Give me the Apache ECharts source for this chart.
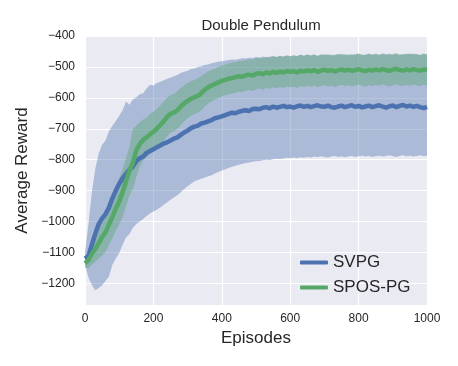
<!DOCTYPE html>
<html>
<head>
<meta charset="utf-8">
<script src="https://cdn.jsdelivr.net/npm/echarts@6/dist/echarts.min.js"></script>
<style>html,body{margin:0;padding:0;background:#fff;}#c{width:458px;height:366px;}</style>
</head>
<body>
<div id="c"></div>
<script>
const episodes = [];
for (let e = 0; e <= 1000; e += 10) episodes.push(e);

const yTicks = [-1200, -1100, -1000, -900, -800, -700, -600, -500, -400];
const xTicks = [0, 200, 400, 600, 800, 1000];

const svpgMean = [-1120,-1112,-1075,-1040,-1008,-990,-976,-955,-925,-900,-878,-860,-846,-832,-822,-805,-795,-790,-778,-772,-766,-760,-754,-748,-744,-738,-732,-728,-720,-712,-706,-698,-693,-690,-683,-680,-676,-672,-666,-663,-660,-656,-652,-648,-650,-645,-642,-640,-643,-636,-635,-637,-632,-630,-634,-628,-632,-629,-626,-630,-628,-632,-627,-625,-629,-626,-630,-627,-624,-628,-629,-625,-630,-632,-628,-625,-630,-627,-624,-629,-626,-631,-628,-625,-630,-627,-624,-628,-632,-627,-625,-630,-626,-623,-628,-625,-629,-626,-630,-633,-629];
const svpgUpper = [-1100,-1010,-905,-830,-780,-752,-738,-708,-690,-675,-658,-640,-612,-622,-605,-598,-588,-585,-570,-558,-560,-552,-548,-544,-538,-535,-530,-526,-520,-516,-512,-507,-505,-500,-498,-494,-492,-488,-486,-483,-482,-480,-478,-476,-477,-474,-472,-473,-470,-471,-468,-470,-466,-469,-467,-464,-468,-465,-466,-463,-466,-462,-465,-461,-464,-460,-463,-461,-465,-460,-462,-459,-464,-461,-458,-462,-460,-463,-459,-461,-458,-462,-460,-457,-461,-459,-462,-458,-460,-457,-461,-459,-462,-458,-460,-457,-461,-459,-462,-458,-460];
const svpgLower = [-1140,-1180,-1205,-1222,-1215,-1206,-1192,-1178,-1140,-1120,-1102,-1075,-1052,-1040,-1020,-1008,-1000,-992,-982,-974,-968,-962,-955,-946,-938,-930,-922,-915,-905,-895,-886,-878,-870,-866,-862,-858,-854,-850,-845,-840,-835,-831,-827,-823,-820,-816,-813,-811,-809,-807,-805,-804,-802,-800,-801,-799,-797,-798,-796,-794,-795,-793,-795,-792,-794,-791,-793,-790,-792,-789,-791,-793,-790,-788,-791,-789,-792,-790,-788,-791,-789,-787,-790,-788,-791,-789,-787,-790,-788,-786,-789,-791,-788,-786,-789,-787,-790,-788,-786,-789,-787];

const sposMean = [-1135,-1125,-1105,-1088,-1070,-1050,-1035,-1010,-985,-958,-935,-905,-870,-835,-810,-770,-750,-736,-728,-718,-710,-700,-688,-676,-662,-652,-648,-640,-628,-618,-610,-603,-598,-594,-585,-574,-566,-560,-555,-550,-545,-542,-538,-536,-533,-530,-532,-527,-525,-528,-522,-520,-524,-518,-521,-516,-519,-515,-518,-513,-516,-514,-518,-512,-515,-511,-514,-510,-516,-512,-509,-513,-510,-515,-511,-508,-512,-509,-513,-510,-507,-511,-514,-509,-512,-508,-511,-507,-510,-513,-509,-506,-510,-512,-508,-511,-507,-510,-512,-508,-510];
const sposUpper = [-1115,-1095,-1070,-1045,-1020,-992,-975,-950,-920,-890,-860,-830,-795,-760,-700,-690,-680,-670,-665,-652,-645,-636,-625,-612,-600,-592,-588,-578,-568,-560,-552,-546,-542,-537,-530,-522,-515,-510,-505,-500,-496,-492,-489,-486,-484,-480,-481,-477,-475,-477,-472,-470,-473,-468,-470,-466,-468,-464,-467,-463,-465,-463,-466,-461,-464,-460,-463,-459,-464,-461,-458,-462,-459,-463,-460,-457,-461,-458,-462,-459,-456,-460,-462,-458,-461,-457,-460,-456,-459,-462,-458,-455,-459,-461,-457,-460,-456,-459,-461,-457,-459];
const sposLower = [-1150,-1150,-1140,-1130,-1120,-1110,-1098,-1075,-1055,-1030,-1010,-985,-950,-915,-895,-855,-822,-802,-792,-782,-775,-765,-752,-740,-725,-712,-708,-700,-688,-676,-666,-658,-652,-648,-640,-628,-618,-612,-606,-600,-596,-592,-588,-586,-583,-580,-582,-577,-575,-578,-572,-570,-574,-568,-571,-566,-569,-565,-568,-563,-566,-564,-568,-562,-565,-561,-564,-560,-566,-562,-559,-563,-560,-565,-561,-558,-562,-559,-563,-560,-557,-561,-564,-559,-562,-558,-561,-557,-560,-563,-559,-556,-560,-562,-558,-561,-557,-560,-562,-558,-560];

const BLUE = '#4C72B0', GREEN = '#55A868';
const FONT = '"Liberation Sans", Arial, sans-serif';
const TXT = '#262626';

const pairs = (ys) => episodes.map((e, i) => [e, ys[i]]);

function band(name, lo, up, color) {
  return {
    name: name, type: 'custom', silent: true, z: 1,
    data: [[0, lo[0]]],
    clip: true,
    renderItem: function (params, api) {
      const pts = [];
      for (let i = 0; i < episodes.length; i++) pts.push(api.coord([episodes[i], up[i]]));
      for (let i = episodes.length - 1; i >= 0; i--) pts.push(api.coord([episodes[i], lo[i]]));
      return { type: 'polygon', shape: { points: pts }, style: { fill: color, opacity: 0.4 } };
    }
  };
}

const chart = echarts.init(document.getElementById('c'), null, { renderer: 'canvas' });
chart.setOption({
  animation: false,
  backgroundColor: '#ffffff',
  title: { text: 'Double Pendulum', left: 256, top: 13, textAlign: 'center',
    textStyle: { fontFamily: FONT, fontSize: 15, fontWeight: 'normal', color: TXT } },
  grid: { left: 85, right: 31, top: 36, bottom: 61, show: true, backgroundColor: '#EAEAF2', borderWidth: 0 },
  legend: {
    data: ['SVPG', 'SPOS-PG'], orient: 'vertical', left: 295, top: 249,
    icon: 'roundRect', itemWidth: 28, itemHeight: 4, itemGap: 8,
    textStyle: { fontFamily: FONT, fontSize: 17, color: TXT, padding: [0, 0, 0, 0] }
  },
  xAxis: {
    type: 'value', min: 0, max: 1000, interval: 200,
    name: 'Episodes', nameLocation: 'middle', nameGap: 24,
    nameTextStyle: { fontFamily: FONT, fontSize: 17, color: TXT },
    axisLine: { show: false }, axisTick: { show: false },
    axisLabel: { fontFamily: FONT, fontSize: 12, color: TXT, margin: 8, customValues: xTicks,
      formatter: v => String(v) },
    splitLine: { show: true, lineStyle: { color: '#ffffff', width: 1.2 } }
  },
  yAxis: {
    type: 'value', min: -1270, max: -400,
    name: 'Average Reward', nameLocation: 'middle', nameGap: 43, nameRotate: 90,
    nameTextStyle: { fontFamily: FONT, fontSize: 17, color: TXT },
    axisLine: { show: false },
    axisTick: { show: false, customValues: yTicks },
    axisLabel: { fontFamily: FONT, fontSize: 12, color: TXT, margin: 10, customValues: yTicks,
      formatter: v => String(v).replace('-', '\u2212') },
    splitLine: { show: true, lineStyle: { color: '#ffffff', width: 1.2 } }
  },
  series: [
    band('svpgBand', svpgLower, svpgUpper, BLUE),
    { name: 'SVPG', type: 'line', data: pairs(svpgMean), symbol: 'none', color: BLUE,
      lineStyle: { color: BLUE, width: 4.5 }, z: 2 },
    band('sposBand', sposLower, sposUpper, GREEN),
    { name: 'SPOS-PG', type: 'line', data: pairs(sposMean), symbol: 'none', color: GREEN,
      lineStyle: { color: GREEN, width: 4.5 }, z: 2 }
  ]
});
</script>
</body>
</html>
